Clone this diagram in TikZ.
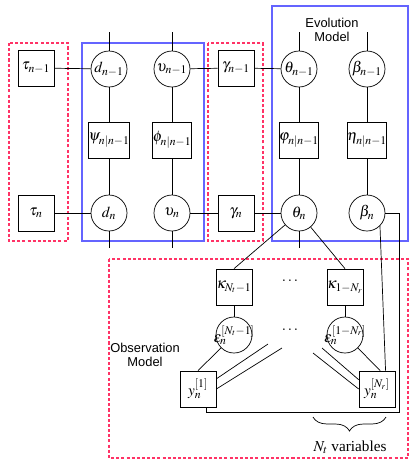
\documentclass[tikz,border=0pt]{standalone}
\usepackage{mathptmx}
\usepackage{fontspec}
\setmainfont{Liberation Serif}
\newfontfamily\helv{Liberation Sans}
\DeclareMathSizes{13}{13}{10}{7.5}
\usetikzlibrary{decorations.pathreplacing}
\definecolor{plred}{RGB}{255,51,102}
\definecolor{plblue}{RGB}{100,100,255}
\begin{document}
\begin{tikzpicture}[x=0.03cm,y=-0.03cm,line width=0.6pt,
  every node/.style={font=\fontsize{13}{15}\selectfont},
  var/.style={circle,draw,minimum size=1.08cm,inner sep=0pt},
  fac/.style={rectangle,draw,minimum size=1.08cm,inner sep=0pt},
  redplate/.style={draw=plred,line width=0.9pt,dash pattern=on 2.6pt off 1.8pt},
  blueplate/.style={draw=plblue,line width=0.9pt}]
\useasboundingbox (0,0) rectangle (416,468);
% plates
\draw[redplate] (9,43) rectangle (68,241);
\draw[blueplate] (82,43) rectangle (204,241);
\draw[redplate] (208,43) rectangle (263,241);
\draw[blueplate] (272,6) rectangle (408,241);
\draw[redplate] (109,259) rectangle (408,458);
\node[align=center,font=\helv\fontsize{11}{12}\selectfont] (evo) at (332,30) {Evolution\\Model};
\node[align=center,font=\helv\fontsize{11}{12}\selectfont] (obs) at (145,355) {Observation\\Model};
% row n-1
\node[fac] (tau1) at (36,68) {$\tau_{n-1}$};
\node[var] (d1) at (109,69) {$d_{n-1}$};
\node[var] (v1) at (172,69) {$\upsilon_{n-1}$};
\node[fac] (g1) at (236,68) {$\gamma_{n-1}$};
\node[var] (th1) at (299,69) {$\theta_{n-1}$};
\node[var] (b1) at (367,69) {$\beta_{n-1}$};
% transitions
\node[fac] (psi) at (109,140) {$\psi_{n|n-1}$};
\node[fac] (phi) at (172,140) {$\phi_{n|n-1}$};
\node[fac] (vphi) at (299,140) {$\varphi_{n|n-1}$};
\node[fac] (eta) at (367,140) {$\eta_{n|n-1}$};
% row n
\node[fac] (tau) at (36,213) {$\tau_n$};
\node[var] (d) at (109,213) {$d_n$};
\node[var] (v) at (172,213) {$\upsilon_n$};
\node[fac] (g) at (236,213) {$\gamma_n$};
\node[var] (th) at (299,213) {$\theta_n$};
\node[var] (b) at (367,213) {$\beta_n$};
% observation model
\node[fac] (kL) at (234,287) {$\kappa_{N_t-1}$};
\node[fac] (kR) at (345,287) {$\kappa_{1-N_r}$};
\node (dots1) at (290,281) {$\cdots$};
\node[var] (eL) at (234,335) {\makebox[0pt]{$\epsilon_n^{[N_t-1]}$}};
\node[var] (eR) at (345,335) {\makebox[0pt]{$\epsilon_n^{[1-N_r]}$}};
\node (dots2) at (290,330) {$\cdots$};
\node[fac] (yL) at (198,389) {$y_n^{[1]}$};
\node[fac] (yR) at (377,389) {$y_n^{[N_r]}$};
% free ends
\coordinate (td1) at (109,32);
\coordinate (tv1) at (172,32);
\coordinate (tt1) at (299,32);
\coordinate (tb1) at (367,32);
\coordinate (bd) at (109,248);
\coordinate (bv) at (172,248);
\coordinate (bt) at (299,248);
\coordinate (fL1) at (268,344);
\coordinate (fL2) at (282,348);
\coordinate (fR1) at (322,348);
\coordinate (fR2) at (313,353);
\coordinate (cR) at (399,412);
\path
  (td1) edge (d1)
  (tv1) edge (v1)
  (tt1) edge (th1)
  (tb1) edge (b1)
  (tau1) edge (d1)
  (v1) edge (g1)
  (g1) edge (th1)
  (d1) edge (psi)
  (psi) edge (d)
  (v1) edge (phi)
  (phi) edge (v)
  (th1) edge (vphi)
  (vphi) edge (th)
  (b1) edge (eta)
  (eta) edge (b)
  (tau) edge (d)
  (v) edge (g)
  (g) edge (th)
  (d) edge (bd)
  (v) edge (bv)
  (th) edge (bt)
  (th) edge (kL.north)
  (th) edge (kR.north)
  (kL) edge (eL)
  (kR) edge (eR)
  (eL) edge (yL.north)
  (eR) edge (yR.80)
  (b.-45) edge (yR.65)
  (yL.29) edge (fL1)
  (yL.east) edge (fL2)
  (yR.153) edge (fR1)
  (yR.west) edge (fR2)
;
\draw (b.east) -| (cR) -| (yL.-65);
% brace
\draw[decorate,decoration={brace,mirror,amplitude=0.42cm}] (313,417) -- (386,417);
\node (nvar) at (350,447) {$N_t$ variables};
\end{tikzpicture}
\end{document}
